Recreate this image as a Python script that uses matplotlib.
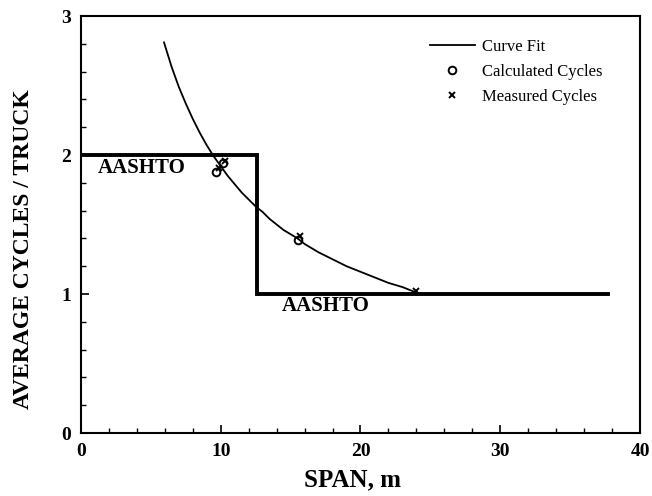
import matplotlib
matplotlib.use("Agg")
import matplotlib.pyplot as plt
from matplotlib.ticker import MultipleLocator

# curve fit, points
fit_span = [5.94, 6.5, 7.0, 7.5, 8.0, 8.5, 9.0, 9.5, 10.0, 10.5, 11.0, 11.5, 12.0,
            12.5, 13.0, 13.5, 14.0, 14.5, 15.0, 15.5, 16.0, 17.0, 18.0, 19.0, 20.0,
            21.0, 22.0, 23.0, 24.0]
fit_cycles = [2.81, 2.63, 2.49, 2.37, 2.26, 2.16, 2.07, 1.99, 1.92, 1.85, 1.79, 1.73,
              1.68, 1.63, 1.59, 1.54, 1.50, 1.46, 1.43, 1.40, 1.36, 1.30, 1.25, 1.20,
              1.16, 1.12, 1.08, 1.05, 1.01]

calc_span = [9.66, 10.16, 15.5]
calc_cycles = [1.88, 1.94, 1.39]

meas_span = [9.87, 10.3, 15.7, 24.0]
meas_cycles = [1.91, 1.96, 1.42, 1.02]

# AASHTO step
aashto_span = [0, 12.6, 12.6, 37.7]
aashto_cycles = [2, 2, 1, 1]

plt.rcParams["font.family"] = ["Liberation Serif", "DejaVu Serif"]

fig = plt.figure(figsize=(6.52, 4.96), dpi=100)
ax = fig.add_axes([0.1242, 0.127, 0.8574, 0.8407])

ax.plot(aashto_span, aashto_cycles, color="black", lw=2.8, solid_joinstyle="miter")
ax.plot(fit_span, fit_cycles, color="black", lw=1.3, label="Curve Fit")
ax.plot(calc_span, calc_cycles, ls="none", marker="o", ms=5.5, mfc="none", mec="black",
        mew=1.4, label="Calculated Cycles")
ax.plot(meas_span, meas_cycles, ls="none", marker="x", ms=5, color="black", mew=1.4,
        label="Measured Cycles")

ax.text(1.2, 1.906, "AASHTO", fontsize=15, fontweight="bold", va="center")
ax.text(14.4, 0.914, "AASHTO", fontsize=15, fontweight="bold", va="center")

ax.set_xlim(0, 40)
ax.set_ylim(0, 3)
ax.xaxis.set_major_locator(MultipleLocator(10))
ax.xaxis.set_minor_locator(MultipleLocator(2))
ax.yaxis.set_major_locator(MultipleLocator(1))
ax.yaxis.set_minor_locator(MultipleLocator(0.2))
ax.tick_params(which="both", direction="in", labelsize=14)
ax.tick_params(which="major", length=6, width=1.2, pad=7)
ax.tick_params(which="minor", length=3.5, width=1)
for lab in ax.get_xticklabels() + ax.get_yticklabels():
    lab.set_fontweight("bold")
for s in ax.spines.values():
    s.set_linewidth(1.5)

ax.set_xlabel("SPAN, m", fontsize=18, fontweight="bold")
ax.set_ylabel("AVERAGE CYCLES / TRUCK", fontsize=17, fontweight="bold")
ax.xaxis.set_label_coords(0.485, -0.085)
ax.yaxis.set_label_coords(-0.084, 0.44)

ax.legend(loc="upper left", frameon=False, fontsize=12, handlelength=2.7,
          handletextpad=0.45, borderpad=0, borderaxespad=0,
          bbox_to_anchor=(0.624, 0.945), labelspacing=0.55)

fig.savefig("out.png", dpi=100)
